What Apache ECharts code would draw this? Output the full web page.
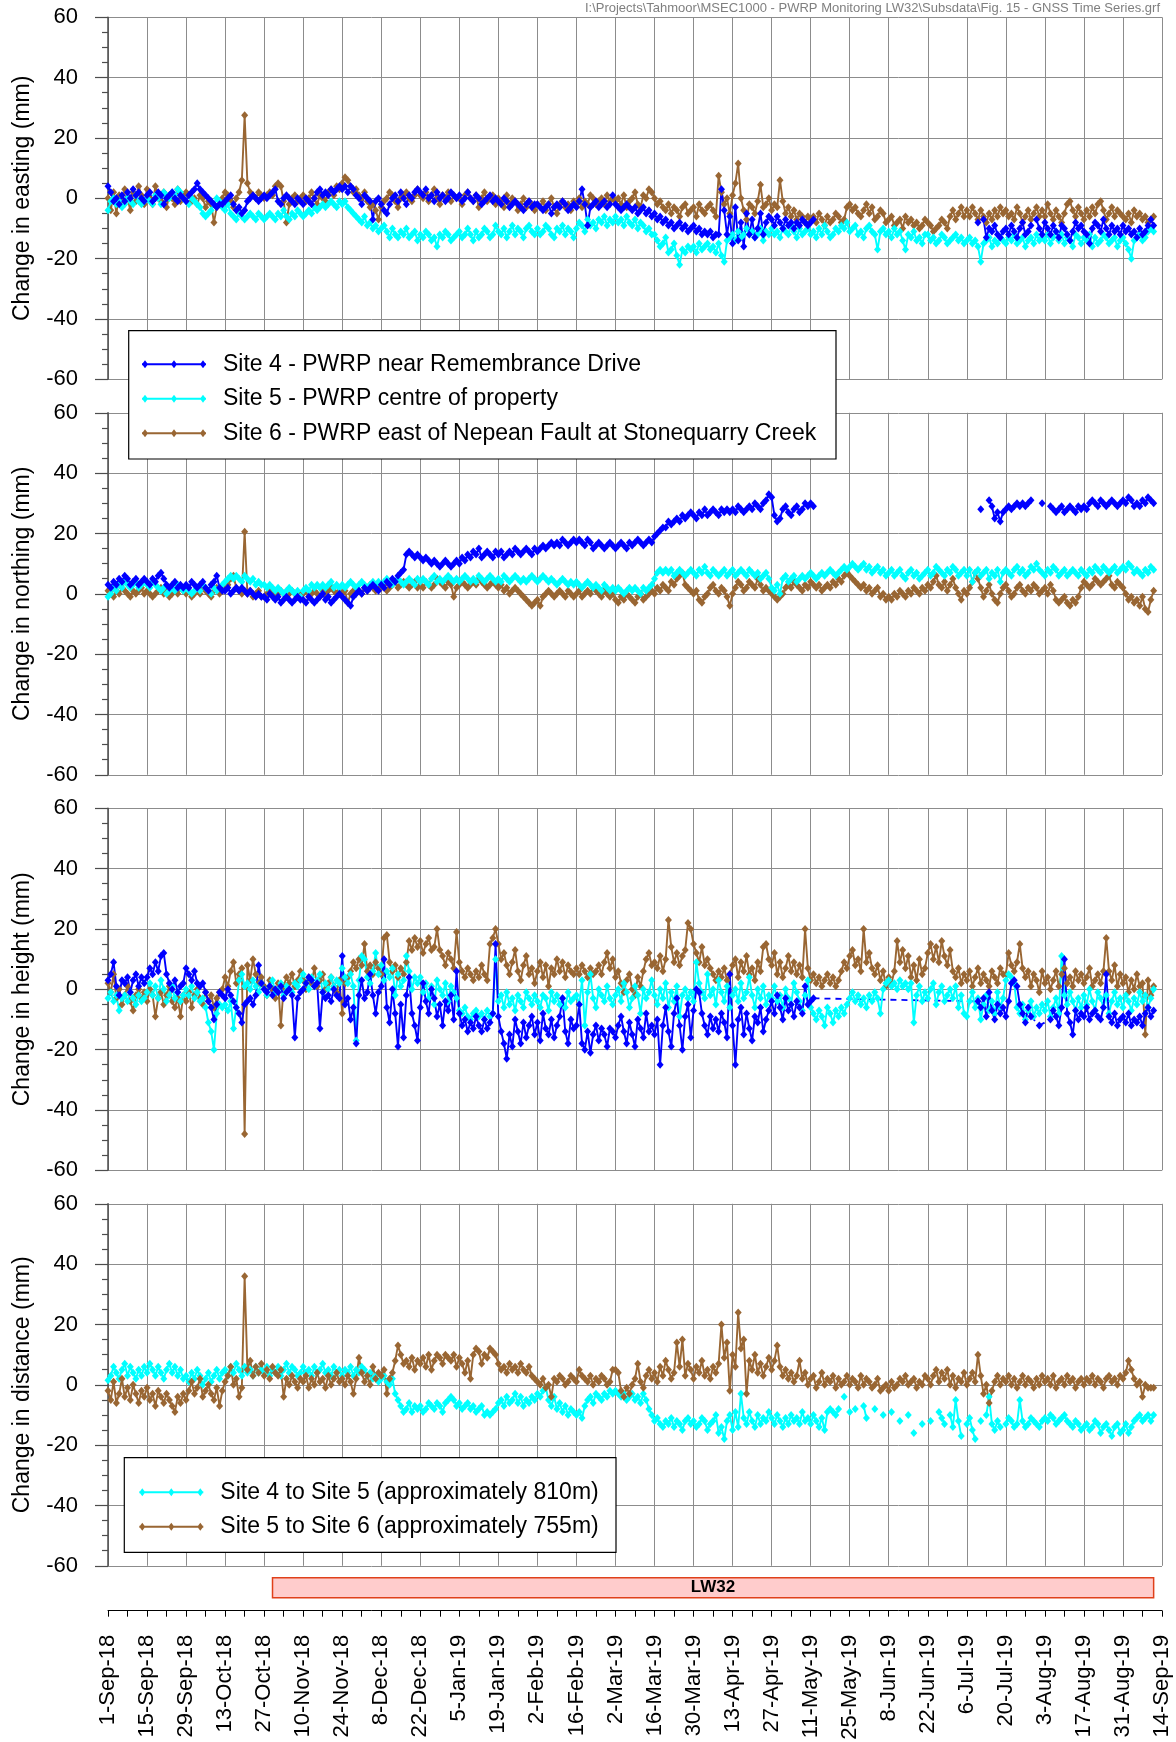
<!DOCTYPE html>
<html>
<head>
<meta charset="utf-8">
<title>GNSS Time Series - PWRP Monitoring LW32</title>
<script src="https://cdn.jsdelivr.net/npm/echarts@6/dist/echarts.min.js"></script>
<style>
  html, body { margin: 0; padding: 0; background: #ffffff; }
  #chart { width: 1176px; height: 1742px; }
</style>
</head>
<body>
<div id="chart"></div>
<script>
// Daily GNSS survey readings, one value per day starting 1-Sep-18 (index = days since 1-Sep-18).
// "_" marks a day with no reading.
const _ = null;

// Axis tick labels, one every 14 days from 1-Sep-18.
const dateTicks = ['1-Sep-18', '15-Sep-18', '29-Sep-18', '13-Oct-18', '27-Oct-18', '10-Nov-18', '24-Nov-18',
  '8-Dec-18', '22-Dec-18', '5-Jan-19', '19-Jan-19', '2-Feb-19', '16-Feb-19', '2-Mar-19', '16-Mar-19',
  '30-Mar-19', '13-Apr-19', '27-Apr-19', '11-May-19', '25-May-19', '8-Jun-19', '22-Jun-19', '6-Jul-19',
  '20-Jul-19', '3-Aug-19', '17-Aug-19', '31-Aug-19', '14-Sep-19'];

// Longwall LW32 extraction period.
const lw32Dates = ['2018-10-30', '2019-09-11'];

const siteNames = ['Site 4 - PWRP near Remembrance Drive', 'Site 5 - PWRP centre of property',
  'Site 6 - PWRP east of Nepean Fault at Stonequarry Creek'];
const distanceNames = ['Site 4 to Site 5 (approximately 810m)', 'Site 5 to Site 6 (approximately 755m)'];

// Change in easting (mm)
const eastingSite4 = [
  4, 2, -1, 0, -2, 1, -1, 2, 0, 3, 1, 2, 0, -1,
  1, 2, -1, 0, 2, 1, -2, 0, 1, 2, 0, -1, 1, 0,
  -1, 1, 2, 3, 5, 3, 2, 1, 0, -1, -2, -3, -2, -2,
  -1, 0, 1, -2, -4, -3, -5, -4, -1, 0, 1, 0, -1, 0,
  1, 0, 1, 2, 3, -1, -2, 0, 1, 0, -1, -2, 0, -1,
  -2, 0, -1, -2, 0, 2, 3, 1, 2, 1, 3, 2, 3, 4,
  3, 4, 2, 4, 3, 1, 0, -2, 1, 0, -1, -7, -1, 0,
  -2, -4, -5, -2, 0, 1, -1, 2, 0, -2, 1, 0, 2, 3,
  2, 1, 3, 0, 1, -1, 2, 0, 1, -1, 0, 2, 1, 0,
  1, -1, 0, 2, 0, -1, 1, 0, -2, -1, 0, 1, -1, 0,
  -1, -2, 0, -1, -3, -2, -1, -2, -3, -4, -2, -1, -3, -2,
  -2, -3, -4, -3, -2, -5, -3, -2, -3, -1, -2, -4, -3, -2,
  -3, -1, 3, -2, -9, -3, -2, -1, -3, -2, -1, -3, -2, 1,
  -2, -3, -4, -3, -2, -3, -4, -3, -5, -4, -3, -5, -4, -6,
  -5, -7, -6, -8, -7, -9, -8, -10, -9, -8, -10, -9, -11, -10,
  -9, -11, -10, -12, -11, -12, -11, -13, -12, -12, 3, -4, -12, -6,
  -15, -3, -14, -8, -16, -5, -12, -7, -13, -10, -5, -12, -8, -6,
  -7, -9, -6, -8, -10, -7, -9, -8, -10, -8, -9, -7, -8, -9,
  -8, -7, _, _, _, _, _, _, _, _, _, _, _, _,
  _, _, _, _, _, _, _, _, _, _, _, _, _, _,
  _, _, _, _, _, _, _, _, _, _, _, _, _, _,
  _, _, _, _, _, _, _, _, _, _, _, _, _, _,
  _, _, _, _, -8, _, -7, -13, -10, -11, -9, -12, -13, -11,
  -10, -12, -9, -11, -13, -10, -8, -12, -11, -9, _, -7, -10, -12,
  -8, -10, -12, -9, -11, -13, -9, -10, -12, -14, -11, -8, -10, -9,
  -11, -12, -15, -10, -8, -9, -11, -7, -10, -12, -9, -11, -10, -12,
  -9, -11, -10, -12, -11, -13, -10, -12, -11, -9, -7, -9
];
const eastingSite5 = [
  -4, -1, 0, -2, -1, -3, -2, 0, -1, -2, 1, -1, -2, -1,
  0, -1, -2, 1, 0, -2, 2, 1, 0, 2, 1, 3, 2, 0,
  -1, -2, 0, -1, -2, -3, -5, -6, -5, -4, -2, 0, -1, -3,
  -4, -2, -5, -6, -7, -5, -6, -7, -6, -5, -6, -7, -5, -6,
  -7, -6, -5, -6, -7, -5, -6, -4, -6, -7, -5, -6, -4, -5,
  -6, -5, -4, -5, -3, -4, -3, -2, -3, -2, -1, -2, -3, -1,
  -2, -1, -3, -4, -5, -6, -7, -8, -6, -9, -8, -10, -9, -11,
  -10, -9, -11, -13, -10, -12, -13, -11, -12, -10, -13, -12, -11, -14,
  -12, -13, -11, -12, -14, -13, -16, -12, -13, -11, -12, -14, -13, -12,
  -11, -13, -12, -10, -12, -14, -11, -13, -12, -10, -11, -13, -12, -9,
  -11, -12, -10, -13, -11, -9, -12, -10, -11, -13, -10, -9, -11, -12,
  -10, -12, -11, -9, -10, -12, -13, -10, -11, -9, -12, -10, -11, -13,
  -10, -8, -9, -11, -7, -9, -8, -10, -7, -8, -6, -9, -7, -8,
  -6, -8, -7, -9, -6, -8, -9, -7, -10, -8, -9, -11, -10, -12,
  -12, -14, -16, -15, -13, -18, -17, -15, -19, -22, -17, -18, -16, -17,
  -16, -18, -15, -17, -16, -15, -17, -16, -18, -15, -19, -21, -14, -13,
  -12, -14, -11, -13, -12, -10, -12, -11, -13, -12, -10, -14, -11, -12,
  -10, -12, -11, -13, -10, -11, -12, -9, -11, -13, -10, -12, -11, -10,
  -12, -11, -13, -10, -12, -9, -11, -13, -12, -10, -11, -9, -10, -8,
  -11, -10, -9, -12, -11, -13, -10, -9, -11, -12, -17, -11, -10, -12,
  -11, -13, -10, -12, -11, -14, -17, -12, -13, -11, -14, -13, -15, -12,
  -12, -14, -13, -15, -14, -12, -13, -15, -14, -13, -12, -14, -13, -15,
  -14, -13, -15, -14, -16, -21, -15, -14, -13, -16, -14, -15, -13, -14,
  -15, -13, -14, -12, -15, -14, -13, -16, -14, -13, -15, -12, -14, -13,
  -14, -12, -15, -13, -11, -14, -12, -15, -13, -14, -16, -12, -13, -15,
  -13, -14, -12, -16, -13, -15, -14, -12, -13, -15, -14, -13, -16, -14,
  -13, -15, -17, -20, -14, -13, -12, -14, -13, -11, -10, -11
];
const eastingSite6 = [
  0, -4, 2, -5, 1, -2, 3, 0, -4, 2, -1, 4, 1, -2,
  3, 0, -2, 4, 1, -1, 2, -3, 1, 0, -2, 3, -1, 1,
  2, 1, -1, 0, -2, 1, 0, -3, -1, -2, -8, -3, -1, 0,
  2, 1, -1, -3, 0, 2, 6, 27.5, 5, 2, 1, 0, 2, 1,
  0, 1, 2, 1, 4, 5, 4, -1, -8, -2, 0, 1, -1, 0,
  1, -1, 0, 2, 0, -2, 1, 0, -1, 2, 3, 1, 4, 3,
  5, 7, 6, 4, 2, 3, 1, 0, 2, -1, -3, -2, -4, -7,
  -3, -1, 0, 2, 1, -1, -3, 0, 1, 2, 0, -1, 1, 3,
  1, 0, 2, -1, 1, 3, 0, -2, 1, 0, 2, -1, 1, 0,
  0, -2, 1, 2, 0, -1, 1, -3, 0, 2, -1, 0, 1, -2,
  0, -1, -3, 1, -2, 0, -1, -4, -2, 0, -3, -1, -2, -4,
  -2, -3, -1, -4, -2, 0, -3, -5, -2, -1, -3, -2, -4, -1,
  -2, 0, -3, -1, -2, 1, 0, -2, -1, 0, -2, 1, -1, 0,
  -1, 0, -2, 1, -3, -1, 0, 2, -2, -3, 1, 0, 3, 2,
  0, -2, -1, -3, -4, -2, -5, -3, -4, -6, -3, -2, -5, -4,
  -3, -6, -2, -4, -5, -3, -2, -4, -6, 7.5, 2, -2, 0, -5,
  1, 5, 11.5, 0, -4, -7, -2, -3, -5, -1, 4.5, -3, -2, 0,
  -4, -2, -3, 6, -1, -5, -3, -6, -4, -7, -5, -6, -8, -6,
  -7, -6, -8, -5, -7, -9, -6, -8, -7, -5, -6, -8, -7, -3,
  -2, -4, -3, -5, -6, -4, -2, -5, -3, -7, -6, -4, -5, -8,
  -7, -6, -9, -8, -7, -10, -6, -8, -7, -9, -8, -10, -9, -7,
  -8, -9, -11, -10, -9, -7, -8, -10, -6, -4, -7, -5, -3, -6,
  -4, -6, -3, -5, -7, -4, -6, -8, -5, -7, -4, -6, -3, -5,
  -4, -6, -5, -7, -3, -5, -8, -6, -4, -7, -5, -3, -6, -4,
  -6, -2, -5, -7, -4, -6, -8, -5, -2, -1, -4, -6, -3, -5,
  -7, -4, -6, -3, -5, -2, -1, -4, -7, -5, -3, -6, -4, -5,
  -6, -7, -5, -8, -4, -6, -5, -7, -6, -8, -7, -6
];

// Change in northing (mm)
const northingSite4 = [
  3, 2, 4, 3, 5, 4, 6, 5, 3, 4, 5, 3, 4, 5,
  4, 3, 5, 4, 6, 7, 5, 3, 2, 3, 4, 2, 3, 2,
  3, 2, 4, 3, 2, 3, 4, 2, 1, 3, 4, 6, 2, 1,
  1, 2, 0, 1, 2, 1, 2, 1, 0, 1, 0, -1, 0, -1,
  -1, -2, 0, -1, -2, -1, -3, -2, -1, -2, -3, -2, -1, -2,
  -2, -3, -1, -2, -3, -2, -1, 0, -2, -1, -3, -2, -1, 0,
  -1, -2, -3, -4, -1, 0, 1, 0, 2, 1, 2, 3, 2, 1,
  3, 2, 4, 3, 5, 4, 6, 7, 8, 13, 14, 13, 12, 13,
  12, 11, 12, 11, 10, 11, 10, 9, 10, 11, 10, 9, 10, 11,
  10, 12, 11, 13, 12, 14, 13, 15, 12, 13, 14, 13, 12, 14,
  13, 14, 12, 13, 14, 13, 15, 14, 13, 14, 15, 14, 13, 15,
  14, 15, 16, 15, 16, 17, 16, 17, 16, 18, 17, 16, 17, 18,
  17, 18, 17, 16, 18, 17, 15, 16, 17, 16, 15, 16, 17, 16,
  15, 16, 17, 16, 15, 17, 16, 17, 18, 17, 16, 17, 18, 17,
  19, 20, 21, 22, 22, 24, 23, 24, 25, 24, 26, 25, 26, 27,
  26, 25, 27, 26, 28, 26, 27, 28, 27, 26, 28, 27, 28, 27,
  28, 27, 29, 28, 27, 28, 29, 28, 30, 29, 28, 30, 31, 33,
  32, 26, 24, 25, 28, 29, 27, 26, 28, 29, 27, 28, 30, 29,
  30, 29, _, _, _, _, _, _, _, _, _, _, _, _,
  _, _, _, _, _, _, _, _, _, _, _, _, _, _,
  _, _, _, _, _, _, _, _, _, _, _, _, _, _,
  _, _, _, _, _, _, _, _, _, _, _, _, _, _,
  _, _, _, _, _, 28, _, _, 31, 29, 25, 27, 24, 27,
  28, 29, 28, 29, 30, 29, 30, 29, 30, 31, _, _, _, 30,
  _, _, 29, 28, 27, 28, 29, 27, 28, 29, 28, 27, 29, 28,
  29, 28, 30, 31, 30, 29, 31, 30, 29, 30, 31, 30, 29, 30,
  31, 30, 32, 31, 29, 30, 29, 31, 30, 32, 31, 30
];
const northingSite5 = [
  -1, 0, 2, 1, 3, 2, 4, 3, 2, 3, 4, 2, 3, 4,
  3, 2, 4, 3, 2, 1, 2, 0, 1, 2, 1, 3, 2, 1,
  2, 1, 0, 1, 2, 1, 3, 2, 1, 0, 2, 1, 2, 3,
  4, 5, 6, 5, 6, 5, 4, 6, 5, 4, 5, 3, 4, 3,
  3, 2, 3, 2, 1, 2, 1, 0, 1, 2, 1, 0, 1, -1,
  1, 2, 1, 3, 2, 3, 2, 3, 2, 3, 4, 2, 3, 2,
  3, 2, 3, 4, 3, 2, 3, 4, 3, 2, 3, 4, 3, 4,
  3, 4, 5, 4, 3, 4, 5, 4, 3, 4, 5, 4, 3, 5,
  4, 5, 4, 3, 5, 6, 4, 5, 4, 5, 6, 5, 4, 5,
  4, 5, 6, 5, 4, 5, 4, 6, 5, 4, 5, 6, 5, 4,
  5, 4, 6, 5, 4, 5, 6, 5, 4, 5, 4, 5, 6, 5,
  4, 5, 6, 5, 4, 5, 4, 3, 4, 5, 4, 3, 4, 3,
  4, 3, 2, 3, 4, 3, 2, 3, 2, 1, 3, 2, 1, 2,
  1, 2, 1, 0, 1, 2, 1, 2, 1, 0, 2, 1, 2, 3,
  5, 7, 8, 7, 8, 7, 8, 6, 7, 8, 7, 6, 7, 8,
  7, 6, 8, 7, 9, 7, 6, 8, 7, 6, 7, 8, 6, 7,
  8, 6, 7, 8, 7, 6, 8, 7, 6, 7, 5, 6, 7, 5,
  2, 1, 3, 0, 5, 6, 4, 5, 6, 4, 5, 6, 5, 6,
  7, 6, 5, 6, 7, 6, 7, 8, 7, 6, 7, 8, 9, 8,
  9, 10, 9, 8, 9, 10, 8, 9, 7, 8, 9, 7, 8, 6,
  7, 8, 6, 7, 8, 6, 5, 7, 8, 6, 7, 5, 6, 7,
  8, 6, 7, 9, 8, 7, 6, 8, 7, 9, 8, 6, 7, 8,
  6, 8, 4, 7, 8, 6, 7, 8, 5, 7, 6, 8, 4, 7,
  8, 7, 6, 8, 9, 7, 8, 6, 7, 9, 8, 10, 8, 7,
  6, 8, 7, 9, 8, 6, 7, 8, 6, 7, 8, 7, 6, 8,
  7, 6, 8, 7, 9, 8, 7, 9, 8, 7, 8, 9, 7, 8,
  9, 8, 10, 9, 7, 8, 7, 6, 8, 7, 9, 8
];
const northingSite6 = [
  1, 0, -1, 1, 0, 2, 1, 0, -1, 1, 0, 1, 2, 0,
  1, 0, -1, 0, 1, 2, 0, 1, -1, 0, 1, 0, 2, 1,
  0, 1, -1, 0, 1, 0, 2, 1, 0, -1, 1, 2, 0, 1,
  2, 3, 5, 6, 2, 1, 0, 20.6, 0, 1, -1, 0, 1, -1,
  -1, 0, 1, 0, -1, 0, 1, 0, -1, 0, 1, 0, -1, 0,
  0, 1, -1, 0, 1, 0, -1, 1, 0, 1, 2, 1, 0, 1,
  0, 1, -3, 0, 1, 2, 1, 0, 2, 1, 3, 2, 1, 2,
  2, 3, 1, 2, 3, 4, 2, 3, 4, 3, 2, 3, 4, 2,
  3, 2, 4, 3, 2, 3, 5, 4, 3, 2, 4, 3, -1, 2,
  3, 4, 3, 2, 3, 4, 3, 5, 4, 3, 2, 3, 4, 3,
  2, 3, 1, 2, 0, 1, 2, 1, 0, -1, -2, -3, -4, -3,
  -2, -4, -1, 0, 1, 0, -1, 0, 1, 0, -1, 1, 0, -1,
  0, 1, -1, 0, 1, 0, 2, 1, 0, -1, 1, 0, -1, 0,
  -2, -3, -1, -2, 0, -1, -2, -3, -1, 0, -2, -1, 0, 1,
  0, 2, 1, 3, 2, 1, 4, 3, 5, 6, 7, 3, 2, 1,
  0, 1, -2, -3, -1, 0, 2, 3, 1, 0, 2, 1, -1, -4,
  0, 2, 4, 3, 1, 2, 4, 3, 2, 5, 3, 1, 2, 1,
  0, -1, -2, -1, 0, 2, 3, 2, 4, 3, 2, 1, 3, 2,
  4, 3, 2, 3, 1, 2, 3, 2, 4, 3, 5, 4, 6, 7,
  6, 5, 4, 3, 2, 3, 1, 2, 0, 1, 2, -1, 0, -2,
  -1, -2, 0, -1, 1, 0, -1, 1, 0, 2, 1, 0, 2, 1,
  3, 2, 4, 6, 3, 2, 4, 1, 3, 5, 2, 0, -2, 1,
  0, 2, 4, 7, 5, 2, -1, 1, 3, 0, -2, -3, 0, 2,
  3, 1, -1, 0, 2, 3, 1, 0, 2, 1, 3, 2, 0, 1,
  2, 0, 3, 1, -2, -3, -2, -1, -3, -4, -2, -3, -1, 2,
  4, 3, 2, 3, 5, 4, 3, 4, 5, 6, 3, 2, 4, 3,
  2, 0, -2, -1, -3, -2, -4, -1, -5, -6, -2, 1
];

// Change in height (mm)
const heightSite4 = [
  3, 5, 9, 1, -2, 3, 2, 4, -1, 3, 5, 1, 4, 2,
  4, 7, 5, 9, 6, 11, 12, 5, 2, 0, 3, -1, 1, 2,
  7, 5, 3, 6, 2, 1, 2, -1, -4, -6, -10, -5, -1, -2,
  -3, 0, -2, -4, -6, -8, -11, -5, -4, -3, -5, -2, 8, 2,
  0, -1, 1, -2, 0, -1, 1, -3, -1, 0, -2, -16, -3, -1,
  0, 2, 4, 3, 1, 2, -13, -1, -3, -2, -4, 0, -2, -3,
  11, -5, -3, -10, -6, -18, -2, 3, -3, -1, 5, -2, -8, -1,
  1, 10, -6, -11, 0, -8, -19, -5, -16, -2, 4, -8, -12, -17,
  -6, 2, -4, -8, 0, -3, -9, -5, -12, -4, -7, -2, -10, 6,
  -8, -12, -10, -14, -11, -13, -9, -12, -14, -10, -13, -11, -8, 15,
  -9, -14, -18, -23, -15, -19, -10, -14, -18, -11, -16, -12, -9, -15,
  -11, -17, -8, -13, -15, -10, -16, -12, -9, -3, -14, -18, -10, -13,
  -12, -5, -18, -20, -14, -21, -15, -12, -17, -13, -15, -19, -13, -14,
  -16, -12, -9, -14, -18, -11, -15, -19, -10, -13, -16, -8, -14, -12,
  -15, -10, -25, -12, -6, -14, -19, -8, -3, -12, -20, -9, -5, -16,
  -7, 0, -1, -8, -12, -15, -9, -13, -10, -14, -8, -11, -16, 5,
  -12, -25, -10, -6, -15, -8, -13, -17, -9, -11, -6, -14, -10, -7,
  -4, -8, -2, -6, -10, -3, -7, -5, -9, -4, -6, -8, 1, -5,
  -4, -3, _, _, _, _, _, _, _, _, _, _, _, _,
  _, _, _, _, _, _, _, _, _, _, _, _, _, _,
  _, _, _, _, _, _, _, _, _, _, _, _, _, _,
  _, _, _, _, _, _, _, _, _, _, _, _, _, _,
  _, _, _, _, -4, -6, -3, -9, -1, -7, -10, -5, -8, -6,
  -9, -4, 2, 3, 1, -5, -8, -11, -6, -9, _, _, -12, _,
  _, _, -10, -7, -9, -12, -6, 10, -8, -11, -15, -7, -10, -8,
  -9, -6, -10, -8, -7, -9, -10, -6, 5, -9, -11, -8, -12, -10,
  -9, -11, -8, -12, -10, -11, -9, -12, -8, -6, -9, -7
];
const heightSite5 = [
  -3, -1, -4, -2, -7, -3, -2, -4, -1, -3, -5, -2, -4, -3,
  -1, 2, -2, 1, -3, 3, 0, -4, -2, 1, -3, -1, -4, -2,
  0, -2, 1, -3, -1, -4, -3, -6, -11, -14, -20, -8, -5, -6,
  -5, -7, -4, -13, -6, 3, 5, 1, 2, 0, 3, 1, -1, 2,
  0, -2, 1, 3, -1, 0, 2, -2, 1, 0, -1, 2, 1, 3,
  5, 2, 0, 4, 1, 3, 5, -1, 2, 0, 4, 1, 3, 2,
  7, 4, 2, 5, 1, -17, 3, 11, 10, 4, 2, 6, 12, 5,
  8, 3, 6, 4, 7, -2, 5, 1, 3, 11, 6, 0, 4, 2,
  4, -1, 2, -3, 1, -5, 3, 0, -2, 2, -4, 1, -1, -3,
  -7, -8, -6, -9, -10, -8, -7, -9, -8, -10, -7, -9, -8, 10,
  -4, -2, -6, -1, -5, -3, -7, -2, -4, -6, -1, -3, -5, -2,
  -4, -6, -2, -3, -7, -1, -4, -2, -5, -3, -6, -1, -4, -3,
  -2, -5, 3, -12, -1, 5, -3, -6, 0, -2, -4, 1, -3, -5,
  -2, 0, -4, 2, -1, -6, -3, 1, -2, -8, 0, -3, -1, 3,
  -2, -5, 0, -3, 2, -6, -1, -4, 1, -9, -2, 0, -3, -1,
  -4, 9, 2, -1, -3, 5, -2, 0, -5, 3, -1, -4, 1, -6,
  -2, 0, -4, 2, -3, -1, 4, -2, -6, 0, -3, 1, -5, -2,
  -3, 1, -4, -2, -6, 0, -3, -5, 2, -1, -4, -7, -2, 3,
  -6, -8, -10, -7, -9, -12, -6, -8, -11, -7, -9, -6, -8, -5,
  -3, -1, -4, -2, -5, -3, -6, -2, -4, -1, -3, -8, 0, 2,
  3, 1, 2, 0, 3, 1, 2, 0, 2, -11, -2, 1, -4, -1,
  -3, 0, 2, -5, -1, 1, -4, -2, 0, -3, 1, -6, -2, -8,
  -9, -4, -1, -6, -3, -10, -5, -2, -7, -4, -8, -1, -6, -3,
  3, 5, 4, 2, -6, -8, -5, -10, -7, -4, -9, -6, -8, -5,
  -7, -4, -9, -6, -3, -8, 11, -2, -5, -1, -4, -7, -3, -6,
  -2, -5, 0, -4, -7, -1, -3, -6, -2, -8, -4, -1, -5, -3,
  -6, -2, -4, -7, -3, -5, -1, -4, -2, -6, -3, 0
];
const heightSite6 = [
  2, -1, 5, -3, 0, -5, -2, 1, -4, -7, -2, 0, -3, -1,
  -4, 0, -2, -9, -3, -1, -5, -2, 1, -4, -6, -3, -9, -2,
  -4, -1, -6, -2, 0, -3, -5, -1, -4, -2, -6, -3, -1, 0,
  4, 1, 6, 9, 2, 5, 7, -48, 8, 3, 10, 5, 2, 4,
  1, -2, 3, 0, -3, 2, -12, 1, 4, 2, 5, 1, 3, 6,
  3, 0, 4, 2, 7, 1, 3, 5, 0, 2, 4, 1, -1, 3,
  -8, 2, 4, 6, 9, 7, 10, 8, 15, 6, 8, 5, 9, 7,
  5, 17, 18, 9, 6, 8, 4, 7, 5, 9, 16, 13, 17, 14,
  16, 12, 15, 17, 13, 14, 20, 13, 11, 8, 12, 10, 7, 19,
  9, 6, 4, 7, 5, 3, 6, 4, 8, 5, 3, 15, 17, 20,
  15, 10, 12, 8, 5, 9, 13, 6, 3, 8, 11, 5, 7, 2,
  6, 9, 4, 8, 1, 7, 5, 10, 6, 9, 4, 8, 6, 5,
  7, 5, 8, 6, 4, 7, 5, 6, 8, 5, 9, 12, 7, 10,
  4, 6, 2, -1, 3, 5, 0, -2, 4, 1, 6, 10, 12, 8,
  9, 7, 11, 6, 10, 23, 14, 9, 12, 8, 11, 13, 22, 20,
  15, 12, 9, 14, 8, 10, 7, 5, 3, 6, 4, 7, 3, 5,
  8, 10, 4, 9, 6, 11, 5, 7, 3, 9, 6, 14, 15, 10,
  8, 12, 5, 9, 4, 7, 11, 6, 9, 5, 8, 4, 20, 7,
  3, 5, 2, 4, 1, 3, 5, 2, 4, 1, 3, 6, 9, 7,
  11, 13, 8, 10, 6, 20, 9, 12, 7, 5, 8, 3, 6, 1,
  4, 2, 6, 16, 9, 13, 7, 11, 4, 8, 3, 10, 5, 7,
  12, 15, 10, 14, 9, 16, 11, 8, 13, 6, 4, 7, 2, 5,
  3, 6, 1, 4, 7, 2, 5, 3, 1, 6, 4, 2, 7, 5,
  5, 12, 8, 6, 9, 15, 7, 4, 6, 1, 5, 3, -1, 6,
  2, 4, 0, 3, 6, 1, 5, 7, 2, 4, 1, 6, 3, 5,
  2, 4, 7, 1, 3, 5, 2, 6, 17, 6, 3, 8, 1, 5,
  2, 4, -1, 3, 0, 5, 1, 2, -15, 3, -2, 1
];

// Change in distance between sites (mm)
const distance4to5 = [
  1.5, 3, 6, 4, 2, 5, 7, 3, 6, 4, 2, 5, 3, 6,
  4, 7, 5, 3, 6, 4, 2, 5, 7, 4, 6, 3, 5, 2,
  3, 1, 4, 2, 5, 3, 0, 2, 4, 1, 3, 5, 2, 4,
  5, 3, 6, 4, 7, 5, 3, 6, 4, 5, 3, 6, 4, 5,
  4, 6, 3, 5, 4, 6, 3, 5, 7, 4, 6, 5, 3, 4,
  6, 4, 5, 3, 6, 4, 5, 7, 4, 5, 3, 6, 4, 5,
  3, 5, 4, 6, 3, 5, 4, 6, 5, 3, 4, 2, 3, 1,
  2, 3, 1, 0, 2, -3, -5, -7, -9, -8, -6, -9, -7, -8,
  -7, -9, -8, -6, -7, -8, -6, -7, -9, -6, -5, -4, -5, -7,
  -6, -8, -7, -6, -8, -7, -9, -8, -7, -10, -9, -10, -9, -8,
  -6, -5, -7, -4, -6, -5, -3, -6, -4, -7, -5, -6, -4, -5,
  -3, -4, -2, -1, -5, -7, -4, -8, -6, -9, -7, -10, -8, -9,
  -10, -9, -11, -7, -5, -4, -6, -3, -4, -5, -3, -4, -2, -3,
  -2, -3, -4, -3, -5, -4, -3, -5, -4, -6, -3, -5, -8, -10,
  -12, -11, -13, -14, -12, -13, -11, -14, -12, -13, -15, -12, -11, -13,
  -12, -14, -13, -11, -12, -15, -13, -12, -10, -16, -14, -18, -12, -10,
  -15, -9, -14, -3, -11, -13, -9, -12, -14, -10, -13, -11, -12, -9,
  -11, -13, -10, -12, -14, -11, -13, -10, -12, -11, -13, -9, -12, -11,
  -13, -10, -12, -14, -11, -15, -9, -8, -9, -10, -8, _, -4, _,
  -9, _, -8, _, _, -7, -11, _, _, -8, _, _, -10, _,
  _, -9, _, _, -12, _, _, -10, _, -16, _, _, -13, _,
  _, -12, _, _, -9, -11, -13, _, -10, -14, -5, -12, -17, _,
  -13, -11, -15, -18, _, -12, _, -10, -4, -13, -15, -12, -14, _,
  -13, -11, -12, -14, -13, -5, -12, -14, -13, -11, -12, -13, -14, -12,
  -11, -12, -10, -11, -13, -12, -11, -10, -12, -13, -14, -12, -13, -15,
  -14, -13, -15, -14, -12, -13, -16, -14, -13, -15, -17, -14, -13, -16,
  -15, -13, -16, -14, -12, -11, -10, -12, -11, -10, -12, -10
];
const distance5to6 = [
  -2, -5, 1, -6, -3, 2, -4, -1, -5, 0, -3, -6, -2, -4,
  -1, -5, -3, -7, -2, -4, -6, -3, -5, -7, -9, -4, -6, -3,
  -5, -2, 1, -3, -1, 2, -4, -2, 0, -3, -5, -1, -7, -2,
  1, 3, 6, 0, 2, -4, -1, 36, 5, 8, 3, 6, 4, 7,
  3, 5, 2, 6, 4, 3, 5, -4, 2, 0, 3, 1, -1, 2,
  1, 3, -1, 2, 0, 4, 1, 2, -1, 3, 0, 2, 4, 1,
  2, 0, 3, 1, -3, 2, 9, 4, 1, 3, 0, 6, 2, 4,
  3, 5, -3, 2, 4, 8, 13, 10, 7, 8, 6, 9, 5, 8,
  7, 9, 6, 10, 5, 8, 10, 9, 7, 10, 9, 8, 10, 6,
  9, 7, 4, 8, 2, 10, 12, 11, 7, 10, 9, 12, 11, 10,
  7, 5, 6, 4, 7, 5, 6, 4, 7, 5, 4, 6, 3, 2,
  1, 0, 2, -1, 0, -4, 2, 1, 3, 2, 0, 1, 3, 2,
  1, 5, 3, 2, 1, 3, 0, 2, 1, 3, 2, 0, 1, 5,
  5, 4, -2, -4, -1, -3, 0, 2, 7, 1, -1, 3, 5, 2,
  4, 1, 6, 3, 8, 5, 2, 4, 14, 6, 15, 3, 7, 5,
  2, 6, 4, 8, 3, 5, 2, 6, 4, 7, 20, 9, 14, -2,
  10, 6, 24, 12, 15, -3, 8, 5, 10, 4, 7, 3, 6, 9,
  5, 8, 13, 6, 3, 5, 2, 4, 1, 3, 8, 2, 4, 0,
  2, 3, -1, 1, 4, 0, 2, 1, 3, -1, 2, 0, 1, 3,
  0, 2, 1, -1, 3, 0, 2, 1, -1, 0, 2, -2, -1, 0,
  -2, 1, -1, 0, 2, 1, 3, 0, 1, 2, -1, 1, 0, 3,
  2, 0, 3, 5, 1, 4, 2, 5, 0, 3, -1, 2, 1, 4,
  0, 2, 4, 1, 10, 3, -3, 0, -6, -2, 1, 3, 0, 2,
  1, 3, 0, 2, -1, 1, 3, 0, 2, 1, -1, 2, 0, 3,
  1, 2, 0, 3, -1, 1, 2, 0, 3, 1, 2, -1, 1, 2,
  0, 2, 1, 3, 0, 2, 1, -1, 2, 3, 1, 2, 0, 3,
  2, 4, 8, 5, 2, 0, 1, -4, 0, -1, -1, -1
];

// ---------------------------------------------------------------------------
const FONT = '"Liberation Sans", Arial, Helvetica, sans-serif';
const BLUE = '#0000FF', CYAN = '#00FFFF', BROWN = '#996633';
const GRID_GRAY = '#8c8c8c', AXIS_GRAY = '#4d4d4d';
const DAY0 = Date.UTC(2018, 8, 1);
const dayOf = s => Math.round((Date.parse(s) - DAY0) / 86400000);
const AXIS_MAX = 14 * (dateTicks.length - 1);

// Plot geometry
const PLOT_LEFT = 108, PLOT_WIDTH = 1054, PANEL_H = 362;
const panelTops = [17.3, 412.8, 808.3, 1203.8];
const panelTitles = ['Change in easting (mm)', 'Change in northing (mm)', 'Change in height (mm)', 'Change in distance (mm)'];

// Legend swatch: short line with three diamond markers
const LEGEND_ICON = 'path://M0,3H64V5H0Z M3,0L6,4L3,8L0,4Z M32,0L35,4L32,8L29,4Z M61,0L64,4L61,8L58,4Z';

const toPoints = values => values.map((v, d) => [d, v]);

function lineSeries(name, values, color, idx) {
  return {
    name, type: 'line', xAxisIndex: idx, yAxisIndex: idx,
    data: toPoints(values),
    symbol: 'diamond', symbolSize: [7, 8], showAllSymbol: true,
    connectNulls: false, silent: true, animation: false,
    lineStyle: { color, width: 1.9 },
    itemStyle: { color, borderWidth: 0 },
    emphasis: { disabled: true }
  };
}

// Dashed links drawn across the missing days of a record
function gapLinks(values) {
  const pts = [];
  let last = -1;
  values.forEach((v, d) => {
    if (v === null) return;
    if (last >= 0 && d - last > 1) pts.push([last, values[last]], [d, v], [d, null]);
    last = d;
  });
  return pts;
}

const grids = panelTops.map(top => ({
  left: PLOT_LEFT, top, width: PLOT_WIDTH, height: PANEL_H, containLabel: false, outerBoundsMode: 'none'
}));
grids.push({ left: PLOT_LEFT, top: 1577.7, width: PLOT_WIDTH, height: 20, containLabel: false, outerBoundsMode: 'none' });

const xAxes = panelTops.map((t, i) => ({
  type: 'value', gridIndex: i, min: 0, max: AXIS_MAX, interval: 14,
  axisLine: { show: false }, axisTick: { show: false }, axisLabel: { show: false },
  splitLine: { show: true, lineStyle: { color: GRID_GRAY, width: 1 } }
}));
xAxes.push({
  type: 'value', gridIndex: 4, min: 0, max: AXIS_MAX, interval: 14, position: 'bottom', offset: 13,
  axisLine: { show: true, onZero: false, lineStyle: { color: '#000', width: 1 } },
  axisTick: { show: true, length: 6, lineStyle: { color: '#000', width: 1 } },
  minorTick: { show: true, splitNumber: 2, length: 6, lineStyle: { color: '#000', width: 1 } },
  axisLabel: {
    rotate: 90, margin: 24, fontSize: 22, fontFamily: FONT, color: '#000',
    formatter: v => dateTicks[Math.round(v / 14)] || ''
  },
  splitLine: { show: false }
});

const yAxes = panelTitles.map((title, i) => ({
  type: 'value', gridIndex: i, min: -60, max: 60, interval: 20,
  name: title, nameLocation: 'middle', nameGap: 74,
  nameTextStyle: { fontSize: 23, fontFamily: FONT, color: '#000' },
  axisLine: { show: true, onZero: false, lineStyle: { color: AXIS_GRAY, width: 1.5 } },
  axisTick: { show: true, length: 13, lineStyle: { color: AXIS_GRAY, width: 1.2 } },
  minorTick: { show: true, splitNumber: 4, length: 6, lineStyle: { color: AXIS_GRAY, width: 1.2 } },
  axisLabel: { fontSize: 22, fontFamily: FONT, color: '#000', margin: 30 },
  splitLine: { show: true, lineStyle: { color: GRID_GRAY, width: 1 } }
}));
yAxes.push({ type: 'value', gridIndex: 4, min: 0, max: 1, show: false });

const siteSets = [
  [eastingSite4, eastingSite5, eastingSite6],
  [northingSite4, northingSite5, northingSite6],
  [heightSite4, heightSite5, heightSite6]
];
const series = [];
siteSets.forEach((set, i) => {
  if (i === 2) {
    series.push({
      type: 'line', xAxisIndex: i, yAxisIndex: i, data: gapLinks(set[0]), symbol: 'none',
      connectNulls: false, silent: true, animation: false,
      lineStyle: { color: BLUE, width: 1.8, type: [6, 5] }
    });
  }
  series.push(lineSeries(siteNames[2], set[2], BROWN, i));
  series.push(lineSeries(siteNames[1], set[1], CYAN, i));
  series.push(lineSeries(siteNames[0], set[0], BLUE, i));
});
series.push(lineSeries(distanceNames[0], distance4to5, CYAN, 3));
series.push(lineSeries(distanceNames[1], distance5to6, BROWN, 3));

// LW32 extraction bar beneath the panels
series.push({
  type: 'custom', xAxisIndex: 4, yAxisIndex: 4, silent: true, animation: false,
  encode: { x: [0, 1] },
  data: [[dayOf(lw32Dates[0]), dayOf(lw32Dates[1])]],
  renderItem: (params, api) => {
    const p0 = api.coord([api.value(0), 1]);
    const p1 = api.coord([api.value(1), 0]);
    return {
      type: 'rect',
      shape: { x: p0[0], y: p0[1], width: p1[0] - p0[0], height: p1[1] - p0[1] },
      style: { fill: '#FFCCCC', stroke: '#E0401A', lineWidth: 1.5 },
      textContent: { style: { text: 'LW32', font: 'bold 17px ' + FONT, fill: '#000' } },
      textConfig: { position: 'inside' }
    };
  }
});

const legendText = { fontSize: 23, fontFamily: FONT, color: '#000', padding: [0, 0, 0, 12] };

const option = {
  animation: false,
  backgroundColor: '#ffffff',
  textStyle: { fontFamily: FONT },
  grid: grids,
  xAxis: xAxes,
  yAxis: yAxes,
  legend: [
    {
      orient: 'vertical', left: 142, top: 352.8, padding: 0, itemGap: 11.5,
      itemWidth: 64, itemHeight: 8, icon: LEGEND_ICON, selectedMode: false, z: 20,
      itemStyle: { borderWidth: 0 }, textStyle: legendText,
      data: siteNames.map(n => ({ name: n }))
    },
    {
      orient: 'vertical', left: 139.3, top: 1480.8, padding: 0, itemGap: 11.5,
      itemWidth: 64, itemHeight: 8, icon: LEGEND_ICON, selectedMode: false, z: 20,
      itemStyle: { borderWidth: 0 }, textStyle: legendText,
      data: distanceNames.map(n => ({ name: n }))
    }
  ],
  graphic: [
    {
      type: 'rect', z: 15, silent: true,
      shape: { x: 128.7, y: 330.7, width: 707.3, height: 128.3 },
      style: { fill: '#ffffff', stroke: '#000000', lineWidth: 1.2 }
    },
    {
      type: 'rect', z: 15, silent: true,
      shape: { x: 124.3, y: 1457.7, width: 491.7, height: 94.6 },
      style: { fill: '#ffffff', stroke: '#000000', lineWidth: 1.2 }
    },
    {
      type: 'text', z: 15, silent: true,
      style: {
        x: 1160, y: 8, text: 'I:\\Projects\\Tahmoor\\MSEC1000 - PWRP Monitoring LW32\\Subsdata\\Fig. 15 - GNSS Time Series.grf',
        textAlign: 'right', textVerticalAlign: 'middle', font: '13px ' + FONT, fill: '#7f7f7f'
      }
    }
  ],
  series
};

const chart = echarts.init(document.getElementById('chart'), null, { renderer: 'canvas' });
chart.setOption(option);
</script>
</body>
</html>
